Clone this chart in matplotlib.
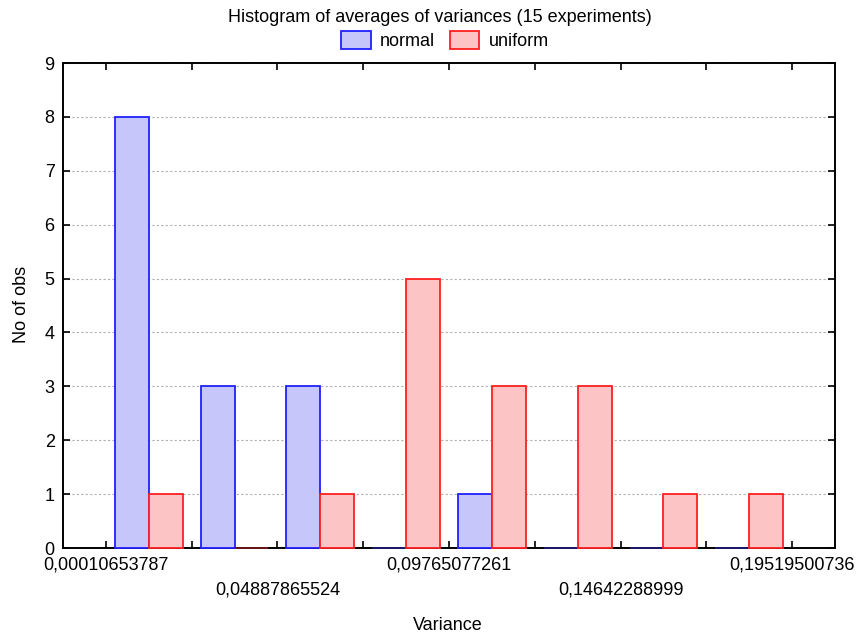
import numpy as np
import matplotlib.pyplot as plt
from matplotlib.patches import Patch

plt.rcParams['font.family'] = ['Liberation Sans', 'DejaVu Sans']

# bin edges (labelled ones) and counts per bin
edge_labels = ['0,00010653787', '0,04887865524', '0,09765077261',
               '0,14642288999', '0,19519500736']
edge_start = 0.00010653787
edge_stop = 0.19519500736
normal = [8, 3, 3, 0, 1, 0, 0, 0]
uniform = [1, 0, 1, 5, 3, 3, 1, 1]

nbins = len(normal)
h = (edge_stop - edge_start) / nbins
edges = edge_start + h * np.arange(nbins + 1)
centers = edges[:-1] + h / 2

fig = plt.figure(figsize=(8.59, 6.39), dpi=100)
ax = fig.add_axes([0.0733, 0.1424, 0.8987, 0.759])

w = 0.395 * h
ncol = ['#1c1c70' if v == 0 else '#2020ff' for v in normal]
ucol = ['#701818' if v == 0 else '#ff2020' for v in uniform]
ax.bar(centers, normal, width=-w, align='edge', color='#c6c6fb',
       edgecolor=ncol, linewidth=1.3, zorder=3, clip_on=False)
ax.bar(centers, uniform, width=w, align='edge', color='#fcc4c4',
       edgecolor=ucol, linewidth=1.3, zorder=3, clip_on=False)

ax.set_xlim(edges[0] - h / 2, edges[-1] + h / 2)
ax.set_ylim(0, 9)
ax.set_yticks(range(10))

labels = []
for i in range(nbins + 1):
    if i % 2:
        labels.append('')
    elif i % 4 == 0:
        labels.append(edge_labels[i // 2])
    else:
        labels.append('\n' + edge_labels[i // 2])
ax.set_xticks(edges)
ax.set_xticklabels(labels, linespacing=1.6)

fs = 13
ax.tick_params(direction='in', top=True, right=True, length=5, width=1.2,
               labelsize=fs, pad=6)
ax.tick_params(axis='x', pad=6)
for s in ax.spines.values():
    s.set_linewidth(1.4)
ax.yaxis.grid(True, linestyle=(0, (2, 2)), color='#b0b0b0', linewidth=0.8)
ax.set_axisbelow(True)

fig.text(0.512, 0.973, 'Histogram of averages of variances (15 experiments)',
         ha='center', va='center', fontsize=fs)
fig.text(0.5215, 0.021, 'Variance', ha='center', va='center', fontsize=fs)
fig.text(0.0245, 0.523, 'No of obs', ha='center', va='center', rotation=90,
         fontsize=fs)

handles = [Patch(facecolor='#c6c6fb', edgecolor='#2020ff', linewidth=1.3),
           Patch(facecolor='#fcc4c4', edgecolor='#ff2020', linewidth=1.3)]
fig.legend(handles, ['normal', 'uniform'], loc='center',
           bbox_to_anchor=(0.518, 0.936), ncol=2, frameon=False,
           fontsize=fs, handlelength=1.65, handleheight=1.1,
           handletextpad=0.5, columnspacing=0.8)

fig.savefig('out.png', dpi=100)
